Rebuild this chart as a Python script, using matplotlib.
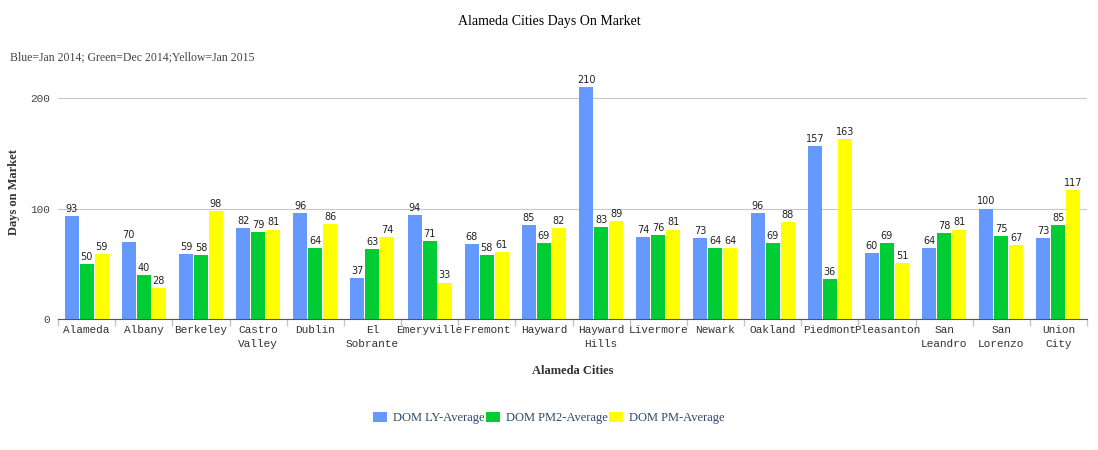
import numpy as np
import matplotlib
matplotlib.use("Agg")
import matplotlib.pyplot as plt

cities = ["Alameda", "Albany", "Berkeley", "Castro\nValley", "Dublin", "El\nSobrante",
          "Emeryville", "Fremont", "Hayward", "Hayward\nHills", "Livermore", "Newark",
          "Oakland", "Piedmont", "Pleasanton", "San\nLeandro", "San\nLorenzo", "Union\nCity"]
dom_ly = [93, 70, 59, 82, 96, 37, 94, 68, 85, 210, 74, 73, 96, 157, 60, 64, 100, 73]
dom_pm2 = [50, 40, 58, 79, 64, 63, 71, 58, 69, 83, 76, 64, 69, 36, 69, 78, 75, 85]
dom_pm = [59, 28, 98, 81, 86, 74, 33, 61, 82, 89, 81, 64, 88, 163, 51, 81, 67, 117]
series_names = ["DOM LY-Average", "DOM PM2-Average", "DOM PM-Average"]
colores = ["#6699ff", "#00cc33", "#ffff00"]

serif = ["Liberation Serif", "DejaVu Serif"]
mono = ["Liberation Mono", "DejaVu Sans Mono"]

fig = plt.figure(figsize=(10.98, 4.5), dpi=100)
ax = fig.add_axes([58/1098, 1 - 319/450, (1087-58)/1098, (319-65)/450])

x = np.arange(len(cities))
w = 0.245
offs = [-0.262, 0, 0.262]
for serie, off, cor, nome in zip([dom_ly, dom_pm2, dom_pm], offs, colores, series_names):
    barras = ax.bar(x + off, serie, w, color=cor, label=nome, zorder=3)
    # rotulos de valor em cima de cada barra
    for b, v in zip(barras, serie):
        ax.annotate(str(v), (b.get_x() + b.get_width()/2, v),
                    textcoords="offset points", xytext=(0, 1.5),
                    ha='center', va='bottom', fontsize=7, family='DejaVu Sans',
                    color='#222222', zorder=5)

ax.set_xlim(-0.5, len(cities) - 0.5)
ax.set_ylim(0, 230)
ax.set_yticks([0, 100, 200])
ax.set_yticklabels(["0", "100", "200"], family=mono, fontsize=8, color='#444444')
ax.yaxis.grid(True, color='#c8c8c8', linewidth=0.8, zorder=0)
ax.tick_params(axis='y', length=0, pad=6)

ax.set_xticks(x)
ax.set_xticklabels(cities, family=mono, fontsize=8, color='#333333', linespacing=1.5)
ax.set_xticks(np.arange(-0.5, len(cities)), minor=True)
ax.tick_params(axis='x', which='major', length=0, pad=4)
ax.tick_params(axis='x', which='minor', length=5, color='#b8c8d8', width=1)

for s in ['top', 'right', 'left']:
    ax.spines[s].set_visible(False)
ax.spines['bottom'].set_color('#555555')
ax.spines['bottom'].set_zorder(4)

ax.set_ylabel("Days on Market", family=serif, fontsize=9, fontweight='bold', color='#333333')
ax.yaxis.set_label_coords((20 - 58) / 1029, 0.5)
ax.set_xlabel("Alameda Cities", family=serif, fontsize=9, fontweight='bold', color='#333333', labelpad=12)

fig.text(0.5, 1 - 21/450, "Alameda Cities Days On Market", ha='center', va='center',
         family=serif, fontsize=10, color='black')
fig.text(10/1098, 1 - 57/450, "Blue=Jan 2014; Green=Dec 2014;Yellow=Jan 2015", ha='left', va='center',
         family=serif, fontsize=8.5, color='#444444')

leg = fig.legend(loc='center', bbox_to_anchor=(0.5, 1 - 418/450), ncol=3, frameon=False,
                 prop={'family': serif, 'size': 9}, handlelength=1.1, handleheight=0.9,
                 handletextpad=0.5, columnspacing=0.1)
for t in leg.get_texts():
    t.set_color('#2b4a6b')

fig.savefig("out.png", dpi=100)
